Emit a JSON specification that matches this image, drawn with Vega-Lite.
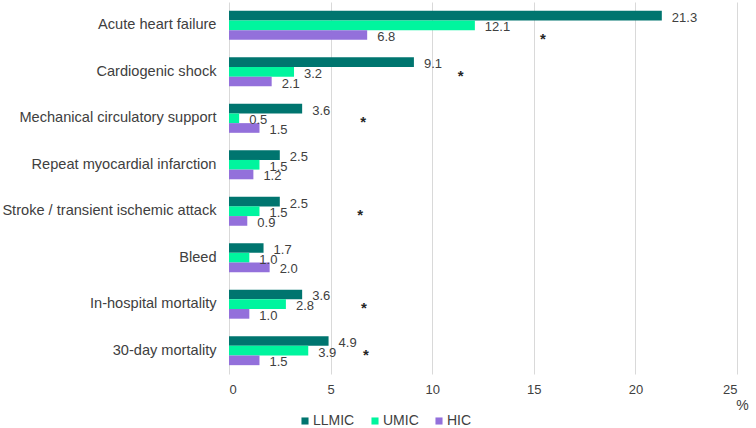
{
  "$schema": "https://vega.github.io/schema/vega-lite/v6.json",
  "width": 508,
  "height": 372,
  "autosize": {"type": "none"},
  "padding": {"left": 229, "top": 2, "right": 19, "bottom": 54},
  "background": "white",
  "config": {
    "view": {"stroke": null},
    "font": "Liberation Sans",
    "text": {"font": "Liberation Sans"}
  },
  "datasets": {
    "bars": [
      {"outcome": "Acute heart failure", "group": "LLMIC", "value": 21.3},
      {"outcome": "Acute heart failure", "group": "UMIC", "value": 12.1},
      {"outcome": "Acute heart failure", "group": "HIC", "value": 6.8},
      {"outcome": "Cardiogenic shock", "group": "LLMIC", "value": 9.1},
      {"outcome": "Cardiogenic shock", "group": "UMIC", "value": 3.2},
      {"outcome": "Cardiogenic shock", "group": "HIC", "value": 2.1},
      {"outcome": "Mechanical circulatory support", "group": "LLMIC", "value": 3.6},
      {"outcome": "Mechanical circulatory support", "group": "UMIC", "value": 0.5},
      {"outcome": "Mechanical circulatory support", "group": "HIC", "value": 1.5},
      {"outcome": "Repeat myocardial infarction", "group": "LLMIC", "value": 2.5},
      {"outcome": "Repeat myocardial infarction", "group": "UMIC", "value": 1.5},
      {"outcome": "Repeat myocardial infarction", "group": "HIC", "value": 1.2},
      {"outcome": "Stroke / transient ischemic attack", "group": "LLMIC", "value": 2.5},
      {"outcome": "Stroke / transient ischemic attack", "group": "UMIC", "value": 1.5},
      {"outcome": "Stroke / transient ischemic attack", "group": "HIC", "value": 0.9},
      {"outcome": "Bleed", "group": "LLMIC", "value": 1.7},
      {"outcome": "Bleed", "group": "UMIC", "value": 1.0},
      {"outcome": "Bleed", "group": "HIC", "value": 2.0},
      {"outcome": "In-hospital mortality", "group": "LLMIC", "value": 3.6},
      {"outcome": "In-hospital mortality", "group": "UMIC", "value": 2.8},
      {"outcome": "In-hospital mortality", "group": "HIC", "value": 1.0},
      {"outcome": "30-day mortality", "group": "LLMIC", "value": 4.9},
      {"outcome": "30-day mortality", "group": "UMIC", "value": 3.9},
      {"outcome": "30-day mortality", "group": "HIC", "value": 1.5}
    ],
    "stars": [
      {"outcome": "Acute heart failure", "group": "HIC", "x": 15.45},
      {"outcome": "Cardiogenic shock", "group": "UMIC", "x": 11.4},
      {"outcome": "Mechanical circulatory support", "group": "UMIC", "x": 6.6},
      {"outcome": "Stroke / transient ischemic attack", "group": "UMIC", "x": 6.45},
      {"outcome": "In-hospital mortality", "group": "UMIC", "x": 6.64},
      {"outcome": "30-day mortality", "group": "UMIC", "x": 6.74}
    ]
  },
  "layer": [
    {
      "data": {"name": "bars"},
      "mark": {"type": "bar", "cornerRadius": 0},
      "encoding": {
        "y": {
          "field": "outcome", "type": "nominal",
          "sort": ["Acute heart failure", "Cardiogenic shock", "Mechanical circulatory support", "Repeat myocardial infarction", "Stroke / transient ischemic attack", "Bleed", "In-hospital mortality", "30-day mortality"],
          "scale": {"paddingInner": 0.375, "paddingOuter": 0.19},
          "axis": {"title": null, "domain": false, "ticks": false, "labelPadding": 13, "labelFontSize": 14.6, "labelColor": "#404040", "labelFont": "Liberation Sans", "labelLimit": 300}
        },
        "yOffset": {"field": "group", "type": "nominal", "sort": ["LLMIC", "UMIC", "HIC"], "scale": {"paddingInner": 0, "paddingOuter": 0}},
        "x": {
          "field": "value", "type": "quantitative",
          "scale": {"domain": [0, 25], "nice": false},
          "axis": {"values": [0, 5, 10, 15, 20, 25], "domain": false, "ticks": false, "grid": true, "gridColor": "#d9d9d9", "labelPadding": 9, "labelFontSize": 13, "labelColor": "#404040", "labelFont": "Liberation Sans",
            "title": "%", "titleFontWeight": "normal", "titleFontSize": 14, "titleColor": "#404040", "titleFont": "Liberation Sans", "titleX": 513, "titleY": 31, "titleAlign": "center", "titleBaseline": "middle"}
        },
        "color": {
          "field": "group", "type": "nominal", "sort": ["LLMIC", "UMIC", "HIC"],
          "scale": {"domain": ["LLMIC", "UMIC", "HIC"], "range": ["#00756F", "#00F59E", "#9370DB"]},
          "legend": {"title": null, "orient": "none", "direction": "horizontal", "legendX": 69, "legendY": 412, "symbolType": "square", "symbolSize": 50, "symbolStrokeWidth": 0, "labelFontSize": 14, "labelColor": "#404040", "labelFont": "Liberation Sans", "labelOffset": 1, "columnPadding": 13}
        }
      }
    },
    {
      "data": {"name": "bars"},
      "mark": {"type": "text", "align": "left", "baseline": "middle", "dx": 10, "dy": 2, "fontSize": 13, "color": "#404040", "font": "Liberation Sans"},
      "encoding": {
        "y": {"field": "outcome", "type": "nominal", "sort": ["Acute heart failure", "Cardiogenic shock", "Mechanical circulatory support", "Repeat myocardial infarction", "Stroke / transient ischemic attack", "Bleed", "In-hospital mortality", "30-day mortality"]},
        "yOffset": {"field": "group", "type": "nominal", "sort": ["LLMIC", "UMIC", "HIC"]},
        "x": {"field": "value", "type": "quantitative"},
        "text": {"field": "value", "type": "quantitative", "format": ".1f"}
      }
    },
    {
      "data": {"name": "stars"},
      "mark": {"type": "text", "align": "center", "baseline": "middle", "dy": 4, "fontSize": 15, "fontWeight": "bold", "color": "#262626", "font": "Liberation Sans"},
      "encoding": {
        "y": {"field": "outcome", "type": "nominal", "sort": ["Acute heart failure", "Cardiogenic shock", "Mechanical circulatory support", "Repeat myocardial infarction", "Stroke / transient ischemic attack", "Bleed", "In-hospital mortality", "30-day mortality"]},
        "yOffset": {"field": "group", "type": "nominal", "sort": ["LLMIC", "UMIC", "HIC"]},
        "x": {"field": "x", "type": "quantitative"},
        "text": {"value": "*"}
      }
    }
  ]
}
